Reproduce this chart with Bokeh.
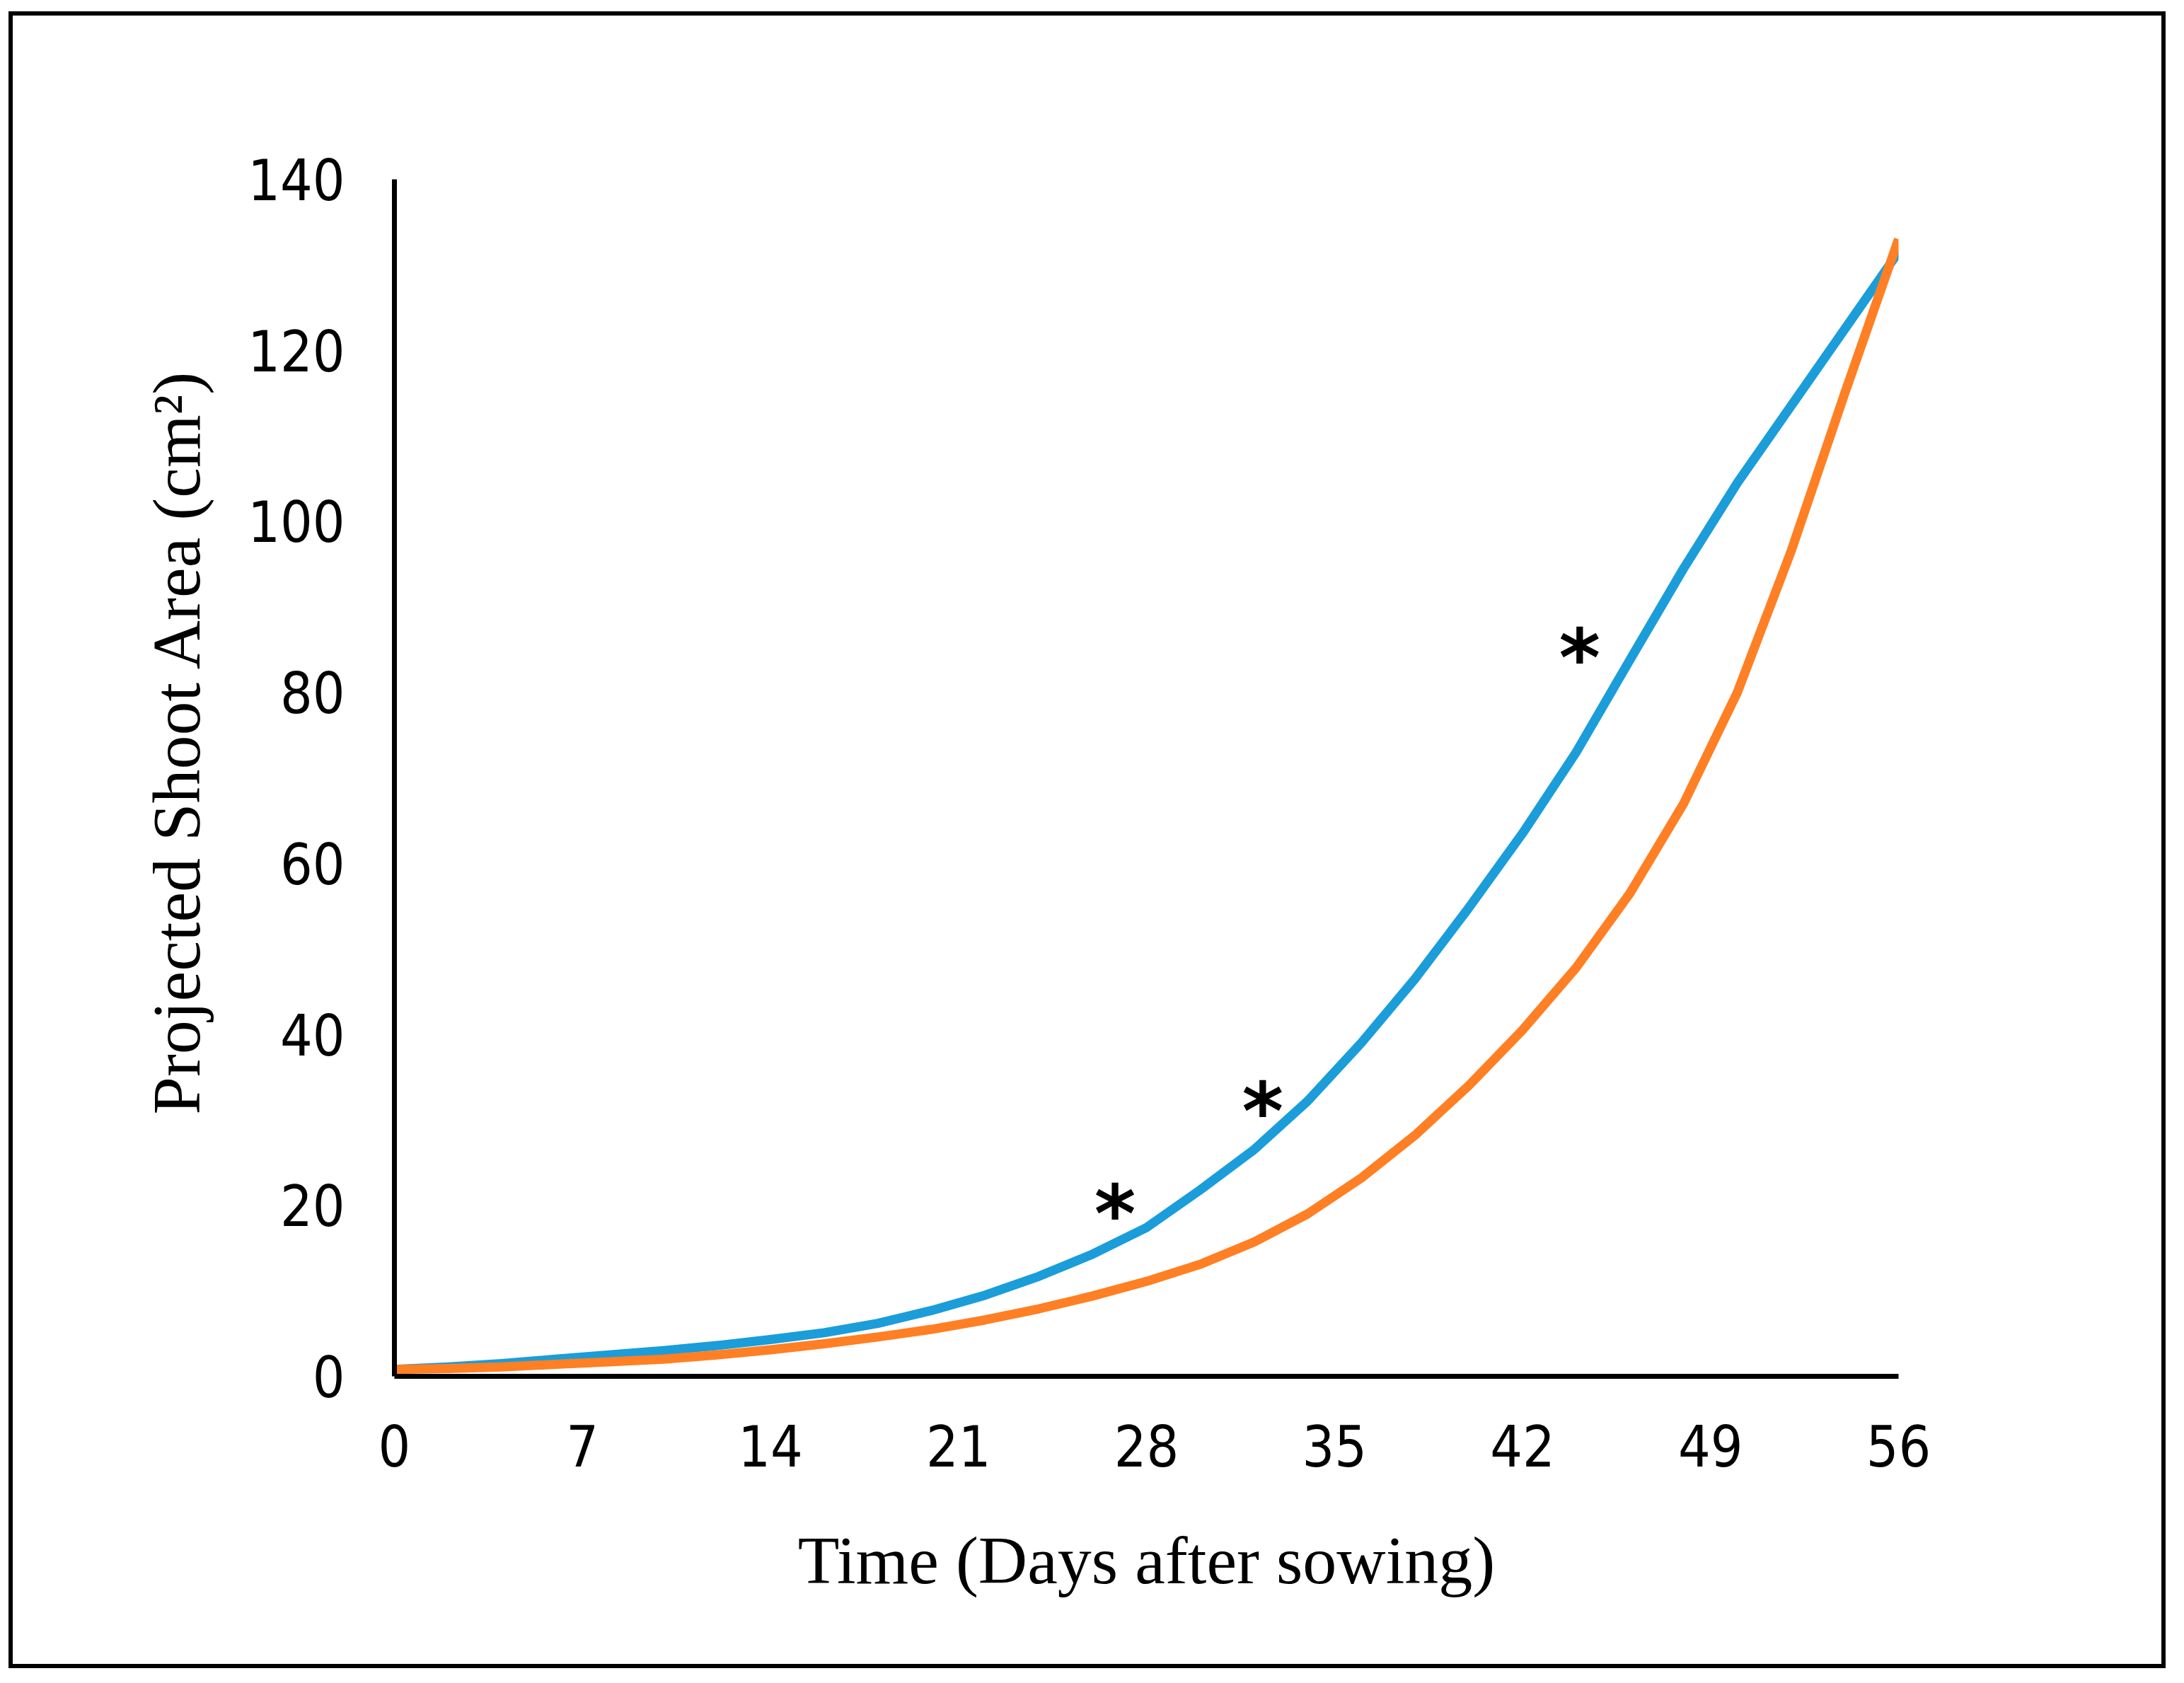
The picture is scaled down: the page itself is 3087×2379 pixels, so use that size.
from bokeh.plotting import figure
from bokeh.models import Range1d, FixedTicker, ColumnDataSource, Title
from bokeh.core.properties import value
from bokeh.embed import file_html
from bokeh.resources import INLINE

# ---- data ----
days = [0, 2, 4, 6, 8, 10, 12, 14, 16, 18, 20, 22, 24, 26, 28,
        30, 32, 34, 36, 38, 40, 42, 44, 46, 48, 50, 52, 54, 56]
blue_area = [0.8, 1.1, 1.5, 2.0, 2.5, 3.0, 3.6, 4.3, 5.1, 6.2, 7.7, 9.5, 11.7, 14.3, 17.4,
             21.8, 26.5, 32.2, 39.0, 46.5, 54.8, 63.5, 73.0, 83.8, 94.5, 104.5, 113.5, 122.5, 131.5]
orange_area = [0.8, 0.9, 1.1, 1.4, 1.7, 2.0, 2.5, 3.1, 3.8, 4.6, 5.5, 6.6, 7.9, 9.4, 11.1,
               13.1, 15.7, 19.0, 23.2, 28.2, 34.0, 40.5, 47.8, 56.5, 67.0, 80.0, 96.5, 115.0, 133.0]
x_ticks = [0, 7, 14, 21, 28, 35, 42, 49, 56]
y_ticks = [0, 20, 40, 60, 80, 100, 120, 140]
star_x = [26.83, 32.33, 44.13]
star_y = [21.0, 33.0, 86.0]
star_text = ["*", "*", "*"]

x_title = "Time (Days after sowing)"
y_title = "Projected Shoot Area (cm\u00b2)"

p = figure(width=3049, height=2342, output_backend="svg", toolbar_location=None,
           x_range=Range1d(0, 56), y_range=Range1d(0, 140),
           min_border_left=539, min_border_right=384,
           min_border_top=231, min_border_bottom=419,
           background_fill_color="white", border_fill_color="white")
p.styles = {"border": "6px solid black", "margin": "16px 0px 0px 12px"}
p.outline_line_color = None
p.xgrid.visible = False
p.ygrid.visible = False

for ax in (p.xaxis[0], p.yaxis[0]):
    ax.major_tick_in = 0
    ax.major_tick_out = 0
    ax.minor_tick_in = 0
    ax.minor_tick_out = 0
    ax.axis_line_color = "black"
    ax.axis_line_width = 7
    ax.major_label_text_font = "DejaVu Sans Condensed"
    ax.major_label_text_font_size = "80px"
    ax.major_label_text_color = "black"
    ax.axis_label_text_font = "Liberation Serif"
    ax.axis_label_text_font_size = "96px"
    ax.axis_label_text_font_style = "normal"
    ax.axis_label_text_color = "black"

p.xaxis.ticker = FixedTicker(ticks=x_ticks)
p.yaxis.ticker = FixedTicker(ticks=y_ticks)
p.xaxis.axis_label = x_title
p.xaxis.major_label_standoff = 68
p.xaxis.axis_label_standoff = 76
p.yaxis.major_label_standoff = 70

# y-axis title (sits a little above the frame centre in the reference)
ytitle = Title(text=y_title, align="left", offset=370, standoff=89,
               text_font="Liberation Serif", text_font_size="96px",
               text_font_style="normal", text_color="black")
p.add_layout(ytitle, "left")

p.line(days, blue_area, line_color="#1B9DD9", line_width=13, line_join="round")
p.line(days, orange_area, line_color="#FF7F24", line_width=13, line_join="round")

src = ColumnDataSource(dict(x=star_x, y=star_y, t=star_text))
p.text(x="x", y="y", text="t", source=src, text_font=value("DejaVu Sans"),
       text_font_style="bold", text_font_size="112px", text_align="center",
       text_baseline="alphabetic", y_offset=24, text_color="black")

open("out.html", "w").write(file_html(p, INLINE))
